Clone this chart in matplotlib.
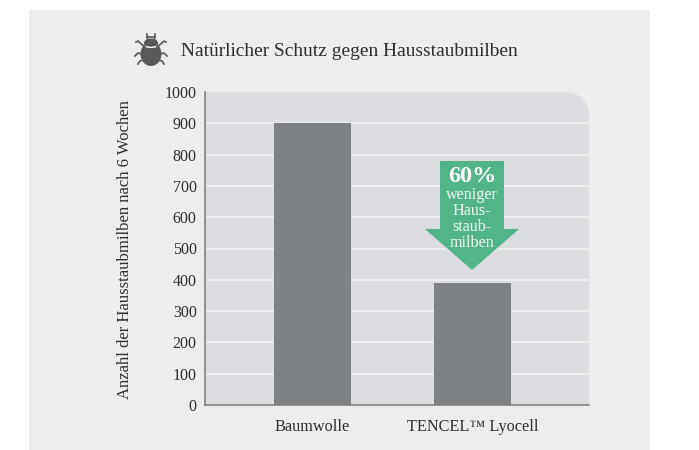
import matplotlib
matplotlib.use("Agg")
import matplotlib.pyplot as plt
from matplotlib.patches import Rectangle, Polygon, PathPatch, Ellipse
from matplotlib.path import Path

categories = ["Baumwolle", "TENCEL™ Lyocell"]
values = [900, 390]
yticks = [0, 100, 200, 300, 400, 500, 600, 700, 800, 900, 1000]
title = "Natürlicher Schutz gegen Hausstaubmilben"
ylabel = "Anzahl der Hausstaubmilben nach 6 Wochen"

W, H = 699, 450
PANEL = "#ededed"; PLOT = "#dcdde0"; BAR = "#7f8284"; GREEN = "#52b58a"
TEXT = "#2e2e2e"; AXIS = "#77797b"; GRID = "#eeeeef"; BUG = "#58585a"
plt.rcParams["font.family"] = ["Liberation Serif", "DejaVu Serif"]

fig = plt.figure(figsize=(W / 100, H / 100), dpi=100, facecolor="white")

bg = fig.add_axes([0, 0, 1, 1], zorder=0)
bg.set_xlim(0, W); bg.set_ylim(H, 0); bg.axis("off")
bg.add_patch(Rectangle((29, 10), 621, 440, fc=PANEL, ec="none"))
L, R, T, B = 205, 589, 92, 405
r = 26
verts = [(L, B), (L, T), (R - r, T), (R, T), (R, T + r), (R, B), (L, B)]
codes = [Path.MOVETO, Path.LINETO, Path.LINETO, Path.CURVE3, Path.CURVE3, Path.LINETO, Path.CLOSEPOLY]
bg.add_patch(PathPatch(Path(verts, codes), fc=PLOT, ec="none"))

ax = fig.add_axes([L / W, 1 - B / H, (R - L) / W, (B - T) / H], zorder=1)
ax.patch.set_alpha(0)
ax.set_xlim(-0.672, 1.728)
ax.set_ylim(0, 1000)
ax.set_yticks(yticks)
ax.set_xticks([0, 1], categories)
ax.yaxis.grid(True, color=GRID, lw=1.5)
ax.yaxis.get_gridlines()[-1].set_visible(False)
ax.set_axisbelow(True)
ax.bar([0, 1], values, width=0.48, color=BAR, zorder=2)
for s in ("top", "right"):
    ax.spines[s].set_visible(False)
for s in ("left", "bottom"):
    ax.spines[s].set_color(AXIS); ax.spines[s].set_linewidth(1.1)
ax.tick_params(axis="x", length=0, pad=10, labelsize=11.7, labelcolor=TEXT)
ax.tick_params(axis="y", length=0, pad=6, labelsize=11.5, labelcolor=TEXT)
ax.set_ylabel(ylabel, fontsize=12, color=TEXT, labelpad=0)
ax.yaxis.set_label_coords(-(205 - 133) / (R - L), 0.497)

ov = fig.add_axes([0, 0, 1, 1], zorder=2)
ov.set_xlim(0, W); ov.set_ylim(H, 0); ov.axis("off")
ov.add_patch(Polygon([(440, 161), (504, 161), (504, 229), (519, 229), (472, 270),
                      (425, 229), (440, 229)], closed=True, fc=GREEN, ec="none"))
ov.text(472, 176, "60%", ha="center", va="center", color="white", fontsize=17.5, fontweight="bold")
for y, t in zip([195, 211, 227, 243], ["weniger", "Haus-", "staub-", "milben"]):
    ov.text(472, y, t, ha="center", va="center", color="#eef7f3", fontsize=11.6)

ov.text(181, 51, title, ha="left", va="center", color=TEXT, fontsize=13.95)

# bug icon
ov.add_patch(Ellipse((151, 54), 21, 24, fc=BUG, ec="none"))
ov.add_patch(Ellipse((151, 43), 14, 9, fc=BUG, ec="none"))
ov.plot([145, 151, 157], [46.5, 47.5, 46.5], color="white", lw=1)
for sx in (-1, 1):
    ov.plot([151 + sx * 6, 151 + sx * 11, 151 + sx * 13, 151 + sx * 15],
            [47, 43, 41, 42], color=BUG, lw=1.2)
    ov.plot([151 + sx * 9, 151 + sx * 13, 151 + sx * 16], [54, 53, 56], color=BUG, lw=1.2)
    ov.plot([151 + sx * 8, 151 + sx * 11, 151 + sx * 13], [60, 61, 64], color=BUG, lw=1.2)
    ov.plot([151 + sx * 3, 151 + sx * 4, 151 + sx * 4], [41, 37, 34], color=BUG, lw=1.2)
ov.plot([147, 155], [37, 37], color=BUG, lw=1.2)

fig.savefig("out.png", dpi=100, facecolor="white")
